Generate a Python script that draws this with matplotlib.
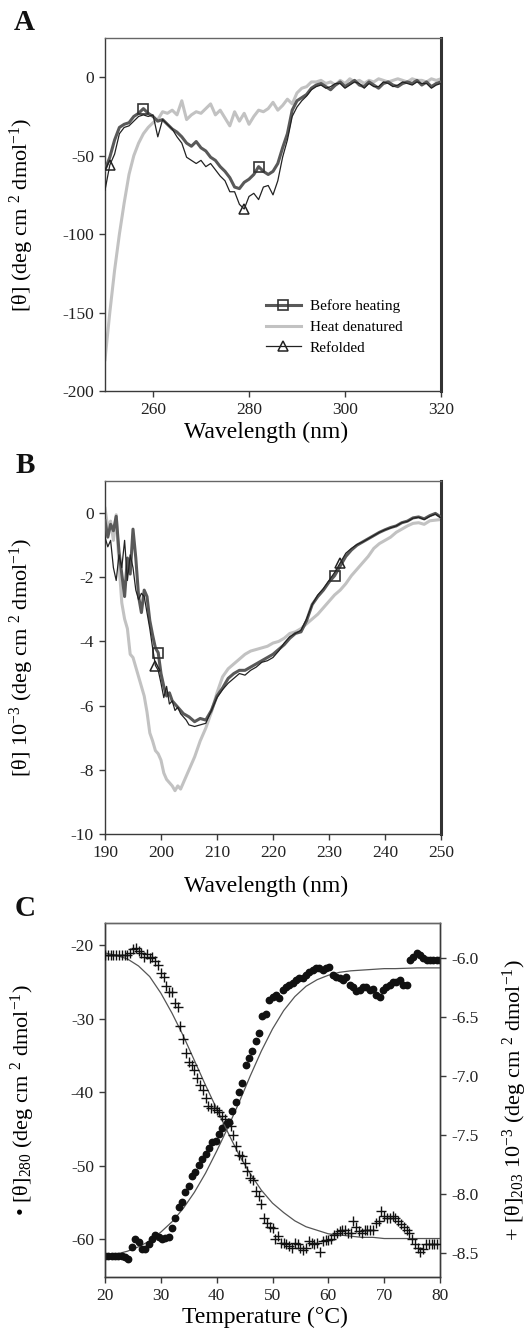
import numpy as np
import matplotlib
matplotlib.use("Agg")
import matplotlib.pyplot as plt
from matplotlib.ticker import FormatStrFormatter

plt.rcParams["font.family"] = ["Liberation Serif", "DejaVu Serif"]
plt.rcParams["mathtext.fontset"] = "custom"
plt.rcParams["mathtext.rm"] = "Liberation Serif"
plt.rcParams["mathtext.it"] = "Liberation Serif:italic"
plt.rcParams["axes.unicode_minus"] = False

# ---------------- panel A : near-UV CD (250-320 nm, 1 nm steps)
wl_a = np.arange(250, 321, 1)
before_a = [-59, -51, -40, -32, -30, -29, -25, -23, -20, -23, -25, -28, -27, -30, -33,
            -35, -38, -42, -44, -41, -45, -47, -51, -53, -57, -60, -64, -70, -71, -67,
            -65, -62, -57, -60, -62, -60, -55, -45, -36, -21, -15, -13, -11, -7, -5,
            -4, -6, -8, -5, -3, -6, -4, -2, -5, -6, -3, -5, -7, -4, -3, -5, -6, -4, -3,
            -4, -2, -5, -3, -6, -4, -3]
heat_a = [-180, -150, -123, -100, -80, -62, -50, -42, -36, -32, -29, -27, -22, -23, -21,
          -24, -15, -27, -24, -22, -23, -20, -17, -24, -21, -26, -31, -22, -28, -23,
          -30, -25, -21, -22, -20, -16, -21, -18, -14, -17, -10, -7, -6, -3, -3,
          -2, -4, -3, -5, -2, -4, -1, -3, -2, -4, -2, -3, -1, -2, -3, -2, -1, -2, -3,
          -1, -2, -2, -3, -1, -2, -1]
refold_a = [-72, -56, -49, -36, -32, -31, -28, -25, -24, -25, -24, -38, -27, -30, -33,
            -38, -42, -51, -53, -55, -53, -57, -55, -59, -63, -66, -73, -73, -81, -84,
            -76, -74, -78, -70, -69, -75, -66, -51, -40, -25, -19, -15, -12, -8, -6,
            -5, -7, -6, -4, -4, -7, -5, -3, -4, -7, -4, -6, -6, -3, -4, -6, -5, -3, -4,
            -5, -3, -4, -4, -7, -5, -4]

# ---------------- panel B : far-UV CD (0.5 nm to 204.5, then 1 nm)
wl_b = np.concatenate([np.arange(190, 205, 0.5), np.arange(205, 251, 1)])
before_b = [-0.24, -0.75, -0.35, -0.55, -0.1, -1.2, -1.9, -2.6, -1.4, -1.9, -0.5, -1.4,
            -2.6, -3.1, -2.4, -2.6, -3.35, -3.8, -4.2, -4.35, -5.0, -5.4, -5.7, -5.6,
            -5.85, -5.95, -6.05, -6.15, -6.25, -6.3,
            -6.35, -6.5, -6.4, -6.45, -6.15, -5.7, -5.45, -5.15, -5.0, -4.9, -4.9, -4.8,
            -4.7, -4.6, -4.5, -4.4, -4.25, -4.1, -3.9, -3.75, -3.7, -3.35, -2.85, -2.6,
            -2.4, -2.15, -1.95, -1.65, -1.35, -1.15, -1.0, -0.9, -0.8, -0.7, -0.6, -0.52,
            -0.45, -0.4, -0.3, -0.25, -0.15, -0.12, -0.18, -0.08, -0.01, -0.13]
heat_b = [0.15, -0.45, -0.25, -0.85, -0.05, -1.6, -2.8, -3.3, -3.6, -4.4, -4.5, -4.8,
          -5.1, -5.4, -5.7, -6.2, -6.85, -7.1, -7.4, -7.5, -7.7, -8.1, -8.3, -8.4,
          -8.5, -8.65, -8.5, -8.6, -8.4, -8.2,
          -8.0, -7.6, -7.1, -6.7, -6.2, -5.6, -5.1, -4.85, -4.7, -4.55, -4.4, -4.3,
          -4.25, -4.2, -4.15, -4.05, -4.0, -3.9, -3.75, -3.7, -3.6, -3.45, -3.3, -3.15,
          -2.95, -2.75, -2.55, -2.4, -2.2, -1.95, -1.75, -1.55, -1.35, -1.1, -0.95, -0.85,
          -0.75, -0.6, -0.5, -0.4, -0.32, -0.3, -0.35, -0.24, -0.22, -0.2]
refold_b = [-0.75, -1.05, -0.85, -1.7, -2.1, -1.3, -1.7, -0.85, -2.1, -1.3, -1.7, -2.4,
            -2.7, -2.5, -2.6, -3.1, -3.6, -4.2, -4.75, -4.9, -5.3, -5.75, -5.4, -5.95,
            -5.85, -6.15, -6.05, -6.25, -6.35, -6.45,
            -6.6, -6.65, -6.6, -6.55, -6.15, -5.75, -5.5, -5.3, -5.15, -5.0, -5.05, -4.9,
            -4.8, -4.65, -4.6, -4.5, -4.3, -4.05, -3.85, -3.75, -3.65, -3.3, -2.85, -2.55,
            -2.35, -2.1, -1.85, -1.55, -1.25, -1.1, -0.98, -0.9, -0.8, -0.7, -0.6, -0.52,
            -0.46, -0.4, -0.3, -0.26, -0.16, -0.13, -0.2, -0.1, -0.03, -0.15]

# ---------------- panel C : thermal melt
temp_dot = np.linspace(20, 80, 101)
theta280 = [-62.3, -62.3, -62.3, -62.3, -62.3, -62.3, -62.4, -62.6, -61.0, -60.0, -60.3,
            -61.3, -61.3, -60.6, -60.0, -59.4, -59.6, -59.9, -59.8, -59.6, -58.4, -57.1,
            -55.6, -54.9, -53.5, -52.7, -51.4, -50.8, -49.9, -49.0, -48.4, -47.6, -46.7,
            -46.6, -45.7, -44.9, -44.3, -44.1, -42.6, -41.3, -39.9, -38.7, -36.3, -35.4,
            -34.4, -33.0, -31.9, -29.6, -29.4, -27.5, -27.0, -26.8, -27.2, -26.1, -25.7,
            -25.4, -25.1, -24.8, -24.5, -24.5, -24.0, -23.6, -23.4, -23.1, -23.1, -23.4,
            -23.1, -23.0, -24.0, -24.3, -24.5, -24.8, -24.4, -25.4, -25.7, -26.3, -26.1,
            -25.7, -25.7, -26.1, -25.9, -26.8, -27.0, -26.1, -25.7, -25.4, -25.0, -25.0,
            -24.8, -25.4, -25.4, -22.0, -21.6, -21.1, -21.4, -21.8, -22.0, -22.0, -22.0,
            -22.0, -22.0]
temp_plus = np.arange(20, 80, 0.5)
theta203 = [-5.975] * 9 + [
    -5.96, -5.93, -5.92, -5.94, -5.96, -5.99, -5.97, -6.00, -5.99, -6.03, -6.06, -6.13,
    -6.16, -6.24, -6.29, -6.29, -6.38, -6.42, -6.58, -6.69, -6.81, -6.88, -6.91, -6.95,
    -7.02, -7.08, -7.12, -7.19, -7.26, -7.27, -7.27, -7.29, -7.31, -7.34, -7.37, -7.40,
    -7.43, -7.50, -7.60, -7.67, -7.68, -7.74, -7.81, -7.87, -7.88, -7.98, -8.02, -8.09,
    -8.21, -8.25, -8.28, -8.29, -8.38, -8.36, -8.42, -8.42, -8.43, -8.44, -8.46, -8.42,
    -8.43, -8.46, -8.48, -8.46, -8.40, -8.42, -8.43, -8.42, -8.49, -8.40, -8.39, -8.39,
    -8.38, -8.35, -8.33, -8.32, -8.31, -8.31, -8.33, -8.33, -8.23, -8.28, -8.32, -8.33,
    -8.31, -8.31, -8.31, -8.31, -8.25, -8.23, -8.15, -8.19, -8.21, -8.21, -8.19, -8.21,
    -8.23, -8.26, -8.28, -8.31, -8.33, -8.38, -8.43, -8.46, -8.49, -8.47, -8.43, -8.43,
    -8.43, -8.43, -8.43]
temp_fit = np.arange(20, 81, 2)
fit280 = [-62.2, -62.0, -61.6, -61.0, -60.2, -59.0, -57.6, -55.8, -53.6, -51.0, -48.0,
          -44.8, -41.4, -37.8, -34.4, -31.4, -28.9, -27.0, -25.6, -24.7, -24.1, -23.7,
          -23.5, -23.4, -23.3, -23.2, -23.2, -23.15, -23.1, -23.1, -23.1]
fit203 = [-5.96, -5.98, -6.01, -6.07, -6.16, -6.30, -6.47, -6.66, -6.87, -7.08, -7.28,
          -7.48, -7.67, -7.83, -7.97, -8.08, -8.16, -8.23, -8.28, -8.31, -8.34, -8.35,
          -8.36, -8.37, -8.37, -8.38, -8.38, -8.38, -8.38, -8.38, -8.38]

c_before = "#595959"
c_heat = "#c2c2c2"
c_refold = "#222222"
c_axis = "#3a3a3a"

W, H = 532, 1336
fig = plt.figure(figsize=(W / 100, H / 100), dpi=100)


def rect(l, t, r, b):
    return [l / W, 1 - b / H, (r - l) / W, (b - t) / H]


def style(ax, thick_right=True):
    for s in ax.spines.values():
        s.set_color(c_axis)
        s.set_linewidth(1.0)
    ax.spines["top"].set_color("#666666")
    if thick_right:
        ax.spines["right"].set_linewidth(2.2)
        ax.spines["right"].set_color("#333333")
    ax.tick_params(direction="out", length=4, width=1, labelsize=12.5, pad=4,
                   color=c_axis, labelcolor="#222222", top=False, right=False)


ylab = r"[θ] (deg cm $^{2}$ dmol$^{-1}$)"

# ---- A
axA = fig.add_axes(rect(105, 38, 441, 391))
axA.plot(wl_a, heat_a, color=c_heat, lw=2.2, label="Heat denatured", zorder=2)
axA.plot(wl_a, before_a, color=c_before, lw=2.2, marker="s", ms=7, mfc="none",
         mec="#333333", mew=1.2, markevery=[8, 32], label="Before heating", zorder=3)
axA.plot(wl_a, refold_a, color=c_refold, lw=0.9, marker="^", ms=7, mfc="none",
         mec="#222222", mew=1.1, markevery=[1, 29], label="Refolded", zorder=4)
axA.set_xlim(250, 320)
axA.set_ylim(-200, 25)
axA.set_xticks([260, 280, 300, 320])
axA.set_yticks([0, -50, -100, -150, -200])
style(axA)
axA.set_xlabel("Wavelength (nm)", fontsize=17)
axA.xaxis.set_label_coords(0.48, -0.088)
axA.set_ylabel(ylab, fontsize=16)
axA.yaxis.set_label_coords(-0.205, 0.5)
h, l = axA.get_legend_handles_labels()
order = [1, 0, 2]
axA.legend([h[i] for i in order], [l[i] for i in order], loc="upper left",
           bbox_to_anchor=(0.46, 0.276), frameon=False, fontsize=11, handlelength=2.3,
           handletextpad=0.6, labelspacing=0.45, borderaxespad=0)

# ---- B
axB = fig.add_axes(rect(105, 481, 441, 834))
axB.plot(wl_b, heat_b, color=c_heat, lw=2.2, zorder=2)
axB.plot(wl_b, before_b, color=c_before, lw=2.2, marker="s", ms=7, mfc="none",
         mec="#333333", mew=1.2, markevery=[19, 56], zorder=3)
axB.plot(wl_b, refold_b, color=c_refold, lw=0.9, marker="^", ms=7, mfc="none",
         mec="#222222", mew=1.1, markevery=[18, 57], zorder=4)
axB.set_xlim(190, 250)
axB.set_ylim(-10, 1)
axB.set_xticks(np.arange(190, 251, 10))
axB.set_yticks([0, -2, -4, -6, -8, -10])
style(axB)
axB.set_xlabel("Wavelength (nm)", fontsize=17)
axB.xaxis.set_label_coords(0.48, -0.118)
axB.set_ylabel(r"[θ] 10$^{-3}$ (deg cm $^{2}$ dmol$^{-1}$)", fontsize=16)
axB.yaxis.set_label_coords(-0.205, 0.5)

# ---- C
axC = fig.add_axes(rect(105, 923, 440, 1277))
axC2 = axC.twinx()
axC.plot(temp_fit, fit280, color="#555555", lw=0.9, zorder=2)
axC.plot(temp_dot, theta280, "o", color="#111111", ms=4.6, zorder=3)
axC2.plot(temp_fit, fit203, color="#555555", lw=0.9, zorder=2)
axC2.plot(temp_plus, theta203, "+", color="#111111", ms=7, mew=1.0, zorder=3)
axC.set_xlim(20, 80)
axC.set_ylim(-65.1, -17.0)
axC2.set_ylim(-8.706, -5.706)
axC.set_xticks(np.arange(20, 81, 10))
axC.set_yticks([-20, -30, -40, -50, -60])
axC2.set_yticks([-6.0, -6.5, -7.0, -7.5, -8.0, -8.5])
axC2.yaxis.set_major_formatter(FormatStrFormatter("%.1f"))
style(axC, thick_right=False)
for s in axC2.spines.values():
    s.set_color(c_axis)
    s.set_linewidth(1.0)
axC2.spines["top"].set_color("#666666")
axC2.tick_params(direction="out", length=4, width=1, labelsize=12.5, pad=4,
                 color=c_axis, labelcolor="#222222")
axC.set_xlabel("Temperature (°C)", fontsize=17)
axC.xaxis.set_label_coords(0.478, -0.085)
axC.set_ylabel(r"• [θ]$_{280}$ (deg cm $^{2}$ dmol$^{-1}$)", fontsize=16)
axC.yaxis.set_label_coords(-0.203, 0.5)
axC2.set_ylabel(r"+ [θ]$_{203}$ 10$^{-3}$ (deg cm $^{2}$ dmol$^{-1}$)", fontsize=16)
axC2.yaxis.set_label_coords(1.18, 0.5)

# panel letters
for txt, x, y in [("A", 24, 22), ("B", 25, 465), ("C", 25, 909)]:
    fig.text(x / W, 1 - y / H, txt, fontsize=21, fontweight="bold",
             ha="center", va="center", color="#111111")

fig.savefig("out.png", dpi=100)
